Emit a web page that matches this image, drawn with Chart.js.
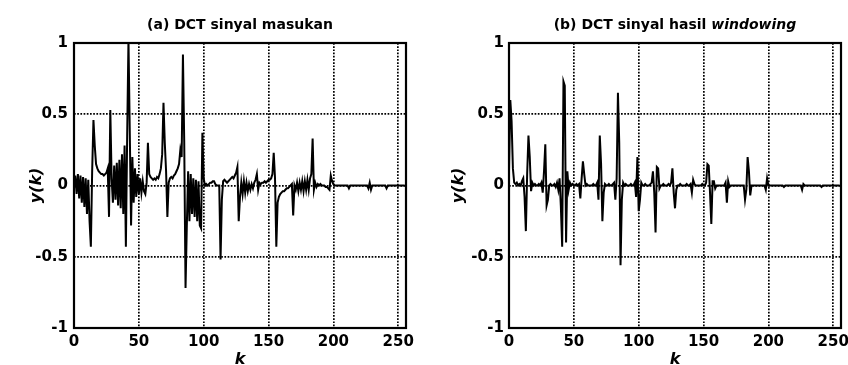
<!DOCTYPE html>
<html>
<head>
<meta charset="utf-8">
<script src="https://cdn.jsdelivr.net/npm/chart.js@4"></script>
<style>
  html, body { margin: 0; padding: 0; background: #fff; overflow: hidden; }
  .panel { position: absolute; top: 0; height: 365px; }
  #panel-a { left: 0; width: 424px; }
  #panel-b { left: 424px; width: 440px; }
</style>
</head>
<body>
<div class="panel" id="panel-a"><canvas id="chart-a" width="424" height="365"></canvas></div>
<div class="panel" id="panel-b"><canvas id="chart-b" width="440" height="365"></canvas></div>
<script>
// DCT coefficients, k = 0..255
const inputDct = [
  -0.02, 0.07, -0.06, 0.08, -0.09, 0.07, -0.12, 0.06, -0.15, 0.05, -0.2, 0.04, -0.25, -0.43, 0.1, 0.46,
  0.28, 0.15, 0.12, 0.1, 0.09, 0.08, 0.08, 0.07, 0.08, 0.09, 0.12, -0.22, 0.53, 0.05, -0.12, 0.14,
  -0.1, 0.16, -0.14, 0.18, -0.16, 0.22, -0.2, 0.28, -0.43, 0.35, 1.02, 0.38, -0.28, 0.2, -0.12, 0.12,
  -0.08, 0.08, -0.06, 0.05, -0.05, 0.03, -0.04, -0.06, 0.02, 0.3, 0.08, 0.06, 0.05, 0.04, 0.05, 0.04,
  0.06, 0.05, 0.08, 0.12, 0.22, 0.58, 0.3, 0.1, -0.22, 0.02, 0.05, 0.06, 0.05, 0.07, 0.08, 0.1,
  0.12, 0.15, 0.25, 0.2, 0.92, 0.3, -0.72, -0.28, 0.1, -0.25, 0.08, -0.2, 0.05, -0.22, 0.04, -0.25,
  0.03, -0.28, -0.3, 0.37, 0.05, 0.0, 0.01, 0.0, 0.01, 0.02, 0.02, 0.03, 0.03, 0.01, 0.0, 0.0,
  0.0, -0.52, -0.1, 0.03, 0.04, 0.03, 0.02, 0.03, 0.04, 0.05, 0.06, 0.05, 0.07, 0.09, 0.13, -0.25,
  -0.08, 0.02, -0.06, 0.03, -0.05, 0.02, -0.04, 0.01, -0.03, 0.01, -0.02, 0.02, 0.04, 0.08, -0.03, 0.02,
  0.01, 0.02, 0.02, 0.03, 0.02, 0.03, 0.04, 0.04, 0.05, 0.08, 0.23, 0.05, -0.43, -0.12, -0.08, -0.06,
  -0.05, -0.04, -0.04, -0.03, -0.02, -0.02, -0.01, 0.0, 0.01, -0.21, 0.0, -0.03, 0.02, -0.04, 0.02, -0.03,
  0.03, -0.04, 0.03, -0.03, 0.04, -0.03, 0.05, 0.08, 0.33, -0.03, 0.02, -0.01, 0.01, 0.0, 0.01, 0.0,
  0.0, 0.0, -0.01, -0.01, -0.02, -0.03, 0.07, 0.03, 0.01, 0.0, 0.0, 0.0, 0.0, 0.0, 0.0, 0.0,
  0.0, 0.0, 0.0, 0.0, -0.02, 0.0, 0.0, 0.0, 0.0, 0.0, 0.0, 0.0, 0.0, 0.0, 0.0, 0.0,
  0.0, 0.0, 0.0, -0.02, 0.02, -0.03, 0.0, 0.0, 0.0, 0.0, 0.0, 0.0, 0.0, 0.0, 0.0, 0.0,
  0.0, -0.02, 0.0, 0.0, 0.0, 0.0, 0.0, 0.0, 0.0, 0.0, 0.0, 0.0, 0.0, 0.0, 0.0, 0.0
];

const windowedDct = [
  0.1, 0.6, 0.45, 0.12, 0.02, 0.01, 0.02, 0.0, 0.01, 0.0, 0.03, 0.05, -0.08, -0.32, 0.08, 0.35,
  0.2, -0.04, 0.02, 0.0, 0.01, 0.0, 0.0, 0.01, 0.0, 0.02, -0.05, 0.1, 0.29, -0.14, -0.1, 0.0,
  0.01, 0.0, 0.0, 0.01, -0.01, 0.02, -0.03, 0.05, -0.15, -0.43, 0.73, 0.7, -0.4, 0.1, -0.03, 0.02,
  0.0, 0.01, 0.0, 0.0, 0.01, 0.0, 0.01, -0.09, 0.05, 0.17, 0.08, 0.0, 0.01, 0.0, 0.0, 0.0,
  0.0, 0.01, 0.0, 0.0, 0.02, -0.1, 0.35, 0.15, -0.25, -0.05, 0.01, 0.0, 0.0, 0.01, 0.0, 0.0,
  0.01, 0.02, -0.1, 0.05, 0.65, 0.3, -0.56, -0.1, 0.02, 0.0, 0.01, 0.0, 0.0, 0.0, 0.01, 0.0,
  0.0, 0.02, -0.08, 0.2, -0.18, -0.1, 0.02, 0.0, 0.0, 0.01, 0.0, 0.0, 0.0, 0.01, 0.02, 0.1,
  -0.05, -0.33, 0.13, 0.12, -0.02, 0.0, 0.0, 0.01, 0.0, 0.0, 0.0, 0.01, 0.0, 0.02, 0.12, -0.05,
  -0.16, -0.03, 0.0, 0.0, 0.01, 0.0, 0.0, 0.0, 0.0, 0.01, 0.0, 0.0, 0.01, -0.05, 0.04, 0.01,
  0.0, 0.0, 0.0, 0.0, 0.0, 0.01, 0.0, 0.0, 0.02, 0.15, 0.14, -0.05, -0.27, 0.03, 0.03, -0.02,
  0.0, 0.0, 0.0, 0.0, 0.0, 0.0, 0.0, 0.02, -0.12, 0.03, -0.01, 0.0, 0.0, 0.0, 0.0, 0.0,
  0.0, 0.0, 0.0, 0.0, 0.0, 0.0, -0.1, -0.03, 0.2, 0.1, -0.07, 0.0, 0.0, 0.0, 0.0, 0.0,
  0.0, 0.0, 0.0, 0.0, 0.0, 0.0, -0.03, 0.05, 0.0, 0.0, 0.0, 0.0, 0.0, 0.0, 0.0, 0.0,
  0.0, 0.0, 0.0, 0.0, -0.01, 0.0, 0.0, 0.0, 0.0, 0.0, 0.0, 0.0, 0.0, 0.0, 0.0, 0.0,
  0.0, 0.0, -0.03, 0.01, 0.0, 0.0, 0.0, 0.0, 0.0, 0.0, 0.0, 0.0, 0.0, 0.0, 0.0, 0.0,
  0.0, -0.01, 0.0, 0.0, 0.0, 0.0, 0.0, 0.0, 0.0, 0.0, 0.0, 0.0, 0.0, 0.0, 0.0, 0.0
];

const xTickValues = [0, 50, 100, 150, 200, 250];
const yTickValues = [-1, -0.5, 0, 0.5, 1];

const titleA = [{ text: '(a) DCT sinyal masukan', italic: false }];
const titleB = [
  { text: '(b) DCT sinyal hasil ', italic: false },
  { text: 'windowing', italic: true },
];

const FONT = "'DejaVu Sans', sans-serif";

// box round the plot area and the mixed-style panel title
const frameAndTitle = {
  id: 'frameAndTitle',
  afterDatasetsDraw(chart) {
    const { ctx, chartArea: a } = chart;
    ctx.save();
    ctx.strokeStyle = '#000';
    ctx.lineWidth = 2.2;
    ctx.strokeRect(a.left, a.top, a.right - a.left, a.bottom - a.top);
    ctx.restore();
  },
  afterDraw(chart, args, opts) {
    const { ctx, chartArea: a } = chart;
    const parts = opts.parts || [];
    ctx.save();
    ctx.fillStyle = '#000';
    ctx.textBaseline = 'middle';
    const fontFor = p => (p.italic ? 'italic ' : '') + 'bold 14px ' + FONT;
    let total = 0;
    parts.forEach(p => { ctx.font = fontFor(p); total += ctx.measureText(p.text).width; });
    let x = (a.left + a.right) / 2 - total / 2;
    parts.forEach(p => {
      ctx.font = fontFor(p);
      ctx.fillText(p.text, x, 25);
      x += ctx.measureText(p.text).width;
    });
    ctx.restore();
  },
};

function makePanel(canvasId, values, titleParts, yWidth, rightPad, yTitlePad, tickPad) {
  const kIndex = values.map((_, i) => i);
  const tickFont = { family: FONT, size: 15, weight: 'bold' };

  new Chart(document.getElementById(canvasId), {
    type: 'line',
    data: {
      datasets: [{
        data: kIndex.map(k => ({ x: k, y: values[k] })),
        borderColor: '#000',
        borderWidth: 2,
        pointRadius: 0,
        tension: 0,
      }],
    },
    options: {
      responsive: false,
      animation: false,
      events: [],
      layout: { padding: { top: 43, right: rightPad, bottom: 0, left: 0 } },
      plugins: {
        legend: { display: false },
        tooltip: { enabled: false },
        frameAndTitle: { parts: titleParts },
      },
      scales: {
        x: {
          type: 'linear',
          min: 0,
          max: 256,
          afterBuildTicks: s => { s.ticks = xTickValues.map(v => ({ value: v })); },
          afterFit: s => { s.height = 37; },
          grid: { color: '#000', lineWidth: 1.7, drawTicks: false },
          border: { display: false, dash: [1.7, 1.5] },
          ticks: {
            color: '#000', font: tickFont, padding: 5,
            maxRotation: 0, autoSkip: false,
            callback: v => String(v),
          },
          title: {
            display: true, text: 'k', color: '#000', padding: 0,
            font: { family: FONT, size: 16, weight: 'bold', style: 'italic', lineHeight: 0.6 },
          },
        },
        y: {
          min: -1,
          max: 1,
          afterBuildTicks: s => { s.ticks = yTickValues.map(v => ({ value: v })); },
          afterFit: s => { s.width = yWidth; },
          grid: { color: '#000', lineWidth: 1.7, drawTicks: false },
          border: { display: false, dash: [1.7, 1.5] },
          ticks: {
            color: '#000', font: tickFont, padding: tickPad,
            callback: v => String(v),
          },
          title: {
            display: true, text: 'y(k)', color: '#000',
            padding: { top: yTitlePad, bottom: 0 },
            font: { family: FONT, size: 16, weight: 'bold', style: 'italic', lineHeight: 1.1 },
          },
        },
      },
    },
    plugins: [frameAndTitle],
  });
}

makePanel('chart-a', inputDct, titleA, 74, 18, 28, 6);
makePanel('chart-b', windowedDct, titleB, 85, 23, 26, 5);
</script>
</body>
</html>
